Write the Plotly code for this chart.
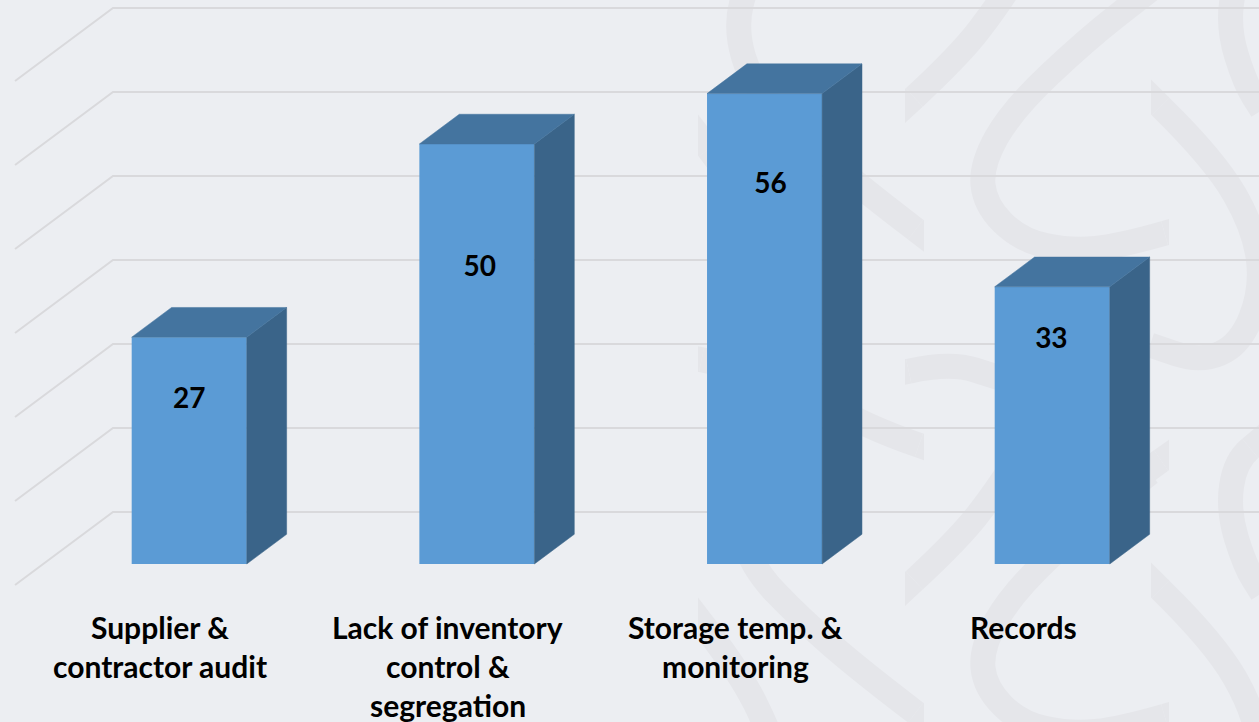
import math
import plotly.graph_objects as go

# ---- data ----
categories = [["Supplier &", "contractor audit"],
              ["Lack of inventory", "control &", "segregation"],
              ["Storage temp. &", "monitoring"],
              ["Records"]]
values = [27, 50, 56, 33]
value_label_heights = [19.4, 35.1, 45.0, 26.6]
value_label_shift = [0.0, 0.01, 0.021, -0.003]
grid_values = [0, 10, 20, 30, 40, 50, 60]

# ---- projection ----
W, H = 1259, 722
X0_PX, Y0_PX = 161.0, 585.0
UX, UY = 287.67, 8.4
DX, DY = 98 / UX, 73 / UY          # full floor depth in axis units
D_FRONT, D_BACK = 0.288, 0.695     # bar depth within the floor
BAR_W = 0.4
LEFT = -0.5075
RIGHT = 3.5

BG = "#ECEEF2"
FRONT = "#5B9BD5"
TOP = "#44749F"
SIDE = "#3A6489"
GRID = "#D9D9DC"
MARK = "#E5E6EA"
FONT = "Lato"
MARK_W = 25


def proj(x, v, d):
    return x + d * DX, v + d * DY


fig = go.Figure()

# front faces
fig.add_trace(go.Bar(
    x=[i + D_FRONT * DX for i in range(len(values))],
    y=values,
    base=[D_FRONT * DY] * len(values),
    width=BAR_W,
    marker=dict(color=FRONT, line=dict(width=0)),
    hoverinfo="skip",
    showlegend=False,
))

# side and top faces
for i, v in enumerate(values):
    l, r = i - BAR_W / 2, i + BAR_W / 2
    side = [proj(r, 0, D_FRONT), proj(r, 0, D_BACK), proj(r, v, D_BACK), proj(r, v, D_FRONT)]
    top = [proj(l, v, D_FRONT), proj(r, v, D_FRONT), proj(r, v, D_BACK), proj(l, v, D_BACK)]
    for pts, col in ((side, SIDE), (top, TOP)):
        xs, ys = zip(*pts)
        fig.add_trace(go.Scatter(
            x=list(xs) + [xs[0]], y=list(ys) + [ys[0]],
            mode="lines", fill="toself", fillcolor=col,
            line=dict(width=0.5, color=col),
            hoverinfo="skip", showlegend=False,
        ))

# value labels
fig.add_trace(go.Scatter(
    x=[i + D_FRONT * DX + s for i, s in enumerate(value_label_shift)],
    y=[h + D_FRONT * DY for h in value_label_heights],
    mode="text",
    text=[str(v) for v in values],
    textposition="middle center",
    textfont=dict(family=FONT, size=28, color="#000000", weight="bold"),
    hoverinfo="skip", showlegend=False,
))

# ---- decorative watermark strokes, page pixels; each starts at its vertical cut ----
strokes = [
    [(905, 106), (960, 55), (998, 5), (1020, -30)],
    [(1169, 232), (1120, 246), (1071, 251), (1020, 240), (985, 205), (981, 165), (1012, 110), (1086, 40), (1150, -10)],
    [(1151, 97), (1215, 160), (1255, 230), (1262, 290), (1240, 345), (1200, 362), (1150, 345)],
    [(1259, -42), (1235, -22), (1228, 28), (1245, 83), (1262, 110)],
    [(924, 236), (861, 188), (800, 135), (752, 85), (735, 28), (748, -22), (772, -42)],
    [(698, 135), (740, 190), (770, 250), (785, 300)],
    [(698, 359), (760, 372)],
    [(924, 447), (861, 425), (800, 385), (760, 372)],
    [(905, 372), (950, 362), (1000, 378)],
    [(1169, 455), (1140, 475), (1100, 510)],
]


def to_paper(px, py):
    return px / W, 1 - py / H


shapes = []
for shift in (0, 483):
    for s in strokes:
        pts = [(px, py + shift) for px, py in s]
        # square the butt end off into a vertical cut with a small filled quad
        (x0, y0), (x1, y1) = pts[0], pts[1]
        length = math.hypot(x1 - x0, y1 - y0)
        ux, uy = (x1 - x0) / length, (y1 - y0) / length
        nx, ny = -uy, ux
        half = MARK_W / 2
        reach = half * abs(uy / ux) + 1
        bx, by = x0 + ux * reach, y0 + uy * reach
        cut = half / abs(ux)
        quad = [(bx + nx * half, by + ny * half), (bx - nx * half, by - ny * half),
                (x0, y0 - cut if ny * (1 if True else 1) > 0 else y0 + cut),
                (x0, y0 + cut if ny > 0 else y0 - cut)]
        a, b, c, d = [to_paper(*q) for q in quad]
        shapes.append(dict(type="path", xref="paper", yref="paper", layer="below",
                           path=f"M {a[0]:.4f},{a[1]:.4f} L {b[0]:.4f},{b[1]:.4f} L {c[0]:.4f},{c[1]:.4f} L {d[0]:.4f},{d[1]:.4f} Z",
                           line=dict(width=0), fillcolor=MARK))
        pts[0] = (bx, by)
        p = [to_paper(*q) for q in pts]
        path = f"M {p[0][0]:.4f},{p[0][1]:.4f}"
        for j in range(1, len(p) - 1):
            mx = (p[j][0] + p[j + 1][0]) / 2
            my = (p[j][1] + p[j + 1][1]) / 2
            path += f" Q {p[j][0]:.4f},{p[j][1]:.4f} {mx:.4f},{my:.4f}"
        path += f" L {p[-1][0]:.4f},{p[-1][1]:.4f}"
        shapes.append(dict(type="path", path=path, xref="paper", yref="paper", layer="below",
                           line=dict(color=MARK, width=MARK_W), fillcolor="rgba(0,0,0,0)"))

# ---- gridlines: diagonal on the side wall, then along the back wall ----
for g in grid_values:
    x1, y1 = proj(LEFT, g, 0)
    x2, y2 = proj(LEFT, g, 1)
    x3, y3 = proj(RIGHT, g, 1)
    shapes.append(dict(type="path", xref="x", yref="y", layer="below",
                       path=f"M {x1},{y1} L {x2},{y2} L {x3},{y3}",
                       line=dict(color=GRID, width=2), fillcolor="rgba(0,0,0,0)"))

# ---- category labels ----
annotations = []
LINE_V = -39 / UY
FIRST_V = (585 - 627) / UY
for i, lines in enumerate(categories):
    for k, t in enumerate(lines):
        annotations.append(dict(
            x=i - 0.003, y=FIRST_V + k * LINE_V, xref="x", yref="y", text=t, showarrow=False,
            xanchor="center", yanchor="middle",
            font=dict(family=FONT, size=30, color="#000000", weight="bold"),
        ))

fig.update_layout(
    width=W, height=H, autosize=False,
    margin=dict(l=0, r=0, t=0, b=0),
    paper_bgcolor=BG, plot_bgcolor=BG,
    showlegend=False, shapes=shapes, annotations=annotations,
    xaxis=dict(range=[-X0_PX / UX, (W - X0_PX) / UX], visible=False, fixedrange=True),
    yaxis=dict(range=[(Y0_PX - H) / UY, Y0_PX / UY], visible=False, fixedrange=True),
)
fig.write_html("out.html", config=dict(displayModeBar=False),
               post_script="document.body.style.margin='0';document.body.style.overflow='hidden';")
